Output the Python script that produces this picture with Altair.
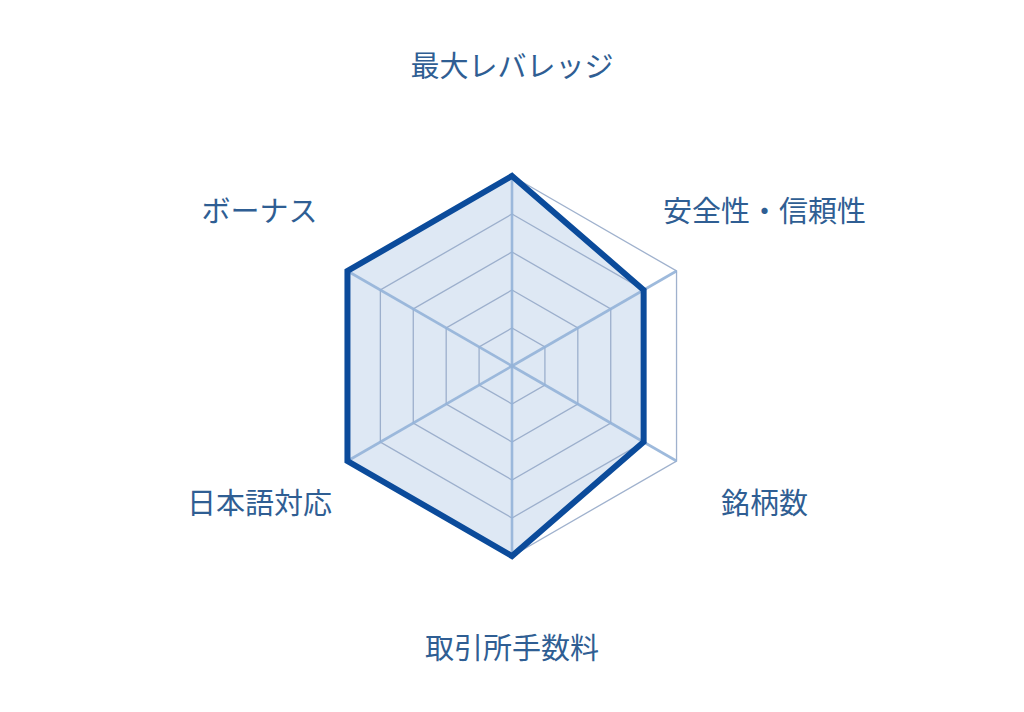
import altair as alt
import pandas as pd

categories = ["最大レバレッジ", "安全性・信頼性", "銘柄数", "取引所手数料", "日本語対応", "ボーナス"]
values = [5, 4, 4, 5, 5, 5]
levels = [1, 2, 3, 4, 5]
max_level = 5

n = len(categories)
idx = list(range(n))

data_df = pd.DataFrame({"i": idx, "cat": categories, "v": values})
grid_df = pd.DataFrame([{"i": i, "lvl": l} for l in levels for i in idx])
spoke_df = pd.DataFrame({"i": idx, "r": [max_level] * n})
label_df = pd.DataFrame({"i": idx, "cat": categories, "r": [7.67] * n})

ANG = "datum.i * PI / 3"
px = 38.0
W, H = 1000, 680
cx, cy = 504, 358
xs = alt.Scale(domain=[-cx / px, (W - cx) / px], nice=False, zero=False)
ys = alt.Scale(domain=[-(H - cy) / px, cy / px], nice=False, zero=False)

def X(field="x"):
    return alt.X(f"{field}:Q", scale=xs, axis=None)

def Y(field="y"):
    return alt.Y(f"{field}:Q", scale=ys, axis=None)

grid = alt.Chart(grid_df).transform_calculate(
    x=f"datum.lvl * sin({ANG})", y=f"datum.lvl * cos({ANG})"
).mark_line(interpolate="linear-closed", color="#95a9c8", strokeWidth=1.3,
            strokeOpacity=0.9).encode(
    x=X(), y=Y(), detail="lvl:N", order="i:Q"
)

spokes = alt.Chart(spoke_df).transform_calculate(
    x=f"datum.r * sin({ANG})", y=f"datum.r * cos({ANG})", x0="0", y0="0"
).mark_rule(color="#94b2d8", strokeWidth=2.6, strokeOpacity=0.9).encode(
    x=X(), y=Y(), x2="x0:Q", y2="y0:Q"
)

poly_fill = alt.Chart(data_df).transform_calculate(
    x=f"datum.v * sin({ANG})", y=f"datum.v * cos({ANG})"
).mark_line(interpolate="linear-closed", fill="#6a95cc", fillOpacity=0.22,
            strokeOpacity=0).encode(
    x=X(), y=Y(), order="i:Q"
)

poly_line = alt.Chart(data_df).transform_calculate(
    x=f"datum.v * sin({ANG})", y=f"datum.v * cos({ANG})"
).mark_line(interpolate="linear-closed", color="#0b4b9b", strokeWidth=6,
            strokeJoin="miter").encode(
    x=X(), y=Y(), order="i:Q"
)

labels = alt.Chart(label_df).transform_calculate(
    x=f"datum.r * sin({ANG})", y=f"datum.r * cos({ANG})"
).mark_text(font="Noto Sans CJK JP", fontSize=29, color="#2f5e93",
            align="center", baseline="middle", dy=-7).encode(
    x=X(), y=Y(), text="cat:N"
)

chart = alt.layer(poly_fill, grid, spokes, poly_line, labels).properties(
    width=W, height=H, padding=0, autosize=alt.AutoSizeParams(type="none")
).configure_view(stroke=None)

chart.save("out.html", embed_options={"renderer": "svg", "actions": False})
